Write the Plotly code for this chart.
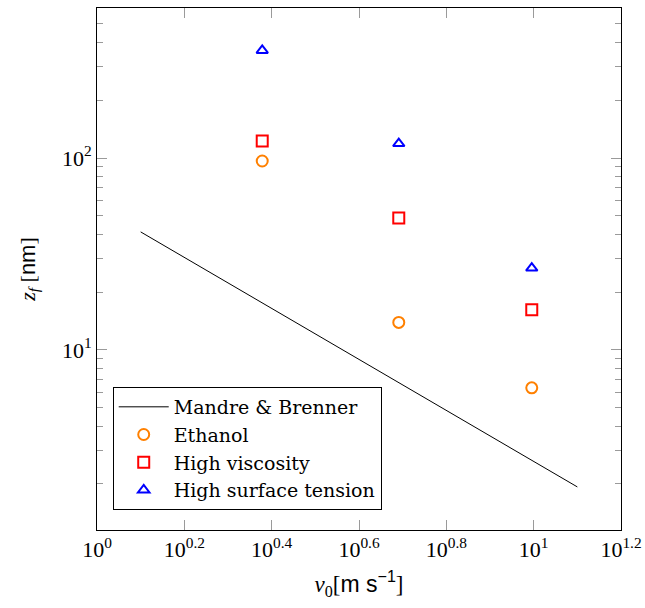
import plotly.graph_objects as go

# ---- data ----
v_exp = [2.39, 4.91, 9.9]
ethanol = [96.5, 13.9, 6.34]
high_viscosity = [122.6, 48.7, 16.2]
high_surface_tension = [364.0, 118.9, 26.7]
mb_v = [10 ** 0.1, 10 ** 1.1]
mb_z = [41.2, 1.93]

x_tick_exps = ["0", "0.2", "0.4", "0.6", "0.8", "1", "1.2"]
y_tick_exps = ["1", "2"]

SERIF = "Liberation Serif"
TICK_GRAY = "#9a9a9a"

fig = go.Figure()
fig.add_trace(go.Scatter(x=mb_v, y=mb_z, mode="lines", name="Mandre &amp; Brenner",
                         line=dict(color="black", width=1)))
fig.add_trace(go.Scatter(x=v_exp, y=ethanol, mode="markers", name="Ethanol",
                         marker=dict(symbol="circle-open", size=11, color="#ff8000",
                                     line=dict(width=2, color="#ff8000"))))
fig.add_trace(go.Scatter(x=v_exp, y=high_viscosity, mode="markers", name="High viscosity",
                         marker=dict(symbol="square-open", size=11, color="#ff0000",
                                     line=dict(width=2, color="#ff0000"))))
fig.add_trace(go.Scatter(x=v_exp, y=high_surface_tension, mode="markers", name="High surface tension",
                         marker=dict(symbol="triangle-up-open", size=10, color="#0000ff",
                                     line=dict(width=2, color="#0000ff"))))

xtickvals = [10 ** float(e) for e in x_tick_exps]
xticktext = ["10<sup>%s</sup>" % e for e in x_tick_exps]
ytickvals = [10 ** float(e) for e in y_tick_exps]
yticktext = ["10<sup>%s</sup>" % e for e in y_tick_exps]
yminor = [m * 10 ** d for d in range(0, 3) for m in range(2, 10)]

fig.update_layout(
    width=645, height=608,
    margin=dict(l=97, r=24, t=8, b=78),
    paper_bgcolor="white", plot_bgcolor="white",
    font=dict(family=SERIF, size=21, color="black"),
    showlegend=True,
    legend=dict(x=0.03, y=0.274, xanchor="left", yanchor="top",
                bordercolor="black", borderwidth=1, bgcolor="white",
                font=dict(family="DejaVu Serif", size=19), itemwidth=50,
                tracegroupgap=0),
    xaxis=dict(type="log", range=[0, 1.2], tickvals=xtickvals, ticktext=xticktext,
               ticks="inside", ticklen=10, tickcolor=TICK_GRAY, tickwidth=1,
               showline=True, linecolor="black", linewidth=1, mirror="allticks",
               showgrid=False, zeroline=False, automargin=False,
               tickfont=dict(family=SERIF, size=22),
               title=dict(text="<i>v</i><sub>0</sub>[<span style='font-family:Liberation Sans'>m s<sup>−1</sup></span>]",
                          font=dict(family=SERIF, size=23), standoff=14)),
    yaxis=dict(type="log", range=[0.061, 2.782], tickvals=ytickvals, ticktext=yticktext,
               ticks="inside", ticklen=10, tickcolor=TICK_GRAY, tickwidth=1,
               showline=True, linecolor="black", linewidth=1, mirror="allticks",
               showgrid=False, zeroline=False, automargin=False,
               tickfont=dict(family=SERIF, size=22),
               minor=dict(tickvals=yminor, ticks="inside", ticklen=6, tickcolor=TICK_GRAY,
                          tickwidth=1, showgrid=False),
               title=dict(text="<i>z</i><sub><i>f</i></sub> [<span style='font-family:Liberation Sans'>nm</span>]",
                          font=dict(family=SERIF, size=22), standoff=20)),
)

fig.write_html("out.html", config={"displayModeBar": False},
               post_script="document.body.style.margin='0';document.body.style.overflow='hidden';")
